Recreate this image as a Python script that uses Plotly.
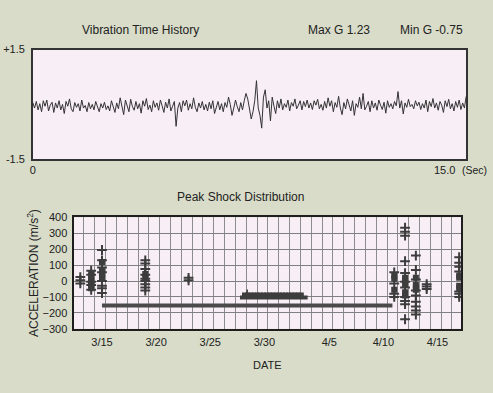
import pandas as pd
import plotly.graph_objects as go

W, H = 493, 393

# ---------------- Vibration time history (top panel) ----------------
vib_g = [
    0.05, -0.10, 0.08, -0.15, 0.02, -0.20, 0.10, -0.05, 0.12, -0.18, -0.02, 0.06, -0.22, 0.04, -0.10, 0.10,
    -0.15, 0.00, -0.25, 0.08, -0.05, 0.15, -0.12, -0.20, 0.05, -0.08, 0.02, -0.18, 0.12, -0.10, -0.03, -0.20,
    0.05, -0.12,
    0.00, -0.15, 0.08, -0.06, -0.20, 0.02, -0.10, 0.06, -0.14, -0.04, -0.18, 0.10, -0.08, -0.22, 0.04, -0.12,
    0.18, -0.10, -0.28, 0.12, -0.02, -0.20, 0.14, -0.06, -0.16, 0.08, -0.12, 0.02, -0.24, 0.10, -0.05, 0.16,
    -0.14,
    -0.02, -0.20, 0.10, -0.08, 0.04, -0.16, 0.12, -0.04, -0.22, 0.06, -0.10, 0.15, -0.18, -0.05, 0.08, -0.60,
    -0.10, 0.05, -0.20, 0.10, -0.04, 0.12, -0.16, 0.02, -0.12, 0.18, -0.08, -0.20, 0.04, -0.10, 0.08, -0.15,
    0.00,
    -0.18, 0.06, -0.12, 0.10, -0.25, -0.05, 0.08, -0.15, 0.02, -0.20, 0.05, -0.08, 0.20, 0.00, -0.30, -0.10,
    0.12, -0.06, -0.20, 0.05, -0.15, 0.10, 0.30, 0.15, -0.10, -0.40, -0.20, 0.10, 0.65, -0.10, -0.30, -0.65,
    0.20, 0.40,
    -0.10, 0.10, -0.45, 0.20, -0.05, -0.25, 0.10, -0.10, 0.15, -0.15, 0.02, -0.08, 0.12, -0.18, 0.05, -0.05,
    0.15, -0.12, -0.02, 0.10, -0.15, 0.08, -0.06, 0.12, -0.10, 0.04, -0.14, 0.10, -0.02, 0.14, -0.12, 0.00,
    -0.16,
    0.08, -0.10, 0.18, -0.05, 0.10, -0.20, 0.05, -0.08, 0.22, -0.10, -0.28, 0.05, -0.12, 0.15, -0.06, -0.18,
    0.10, -0.30, 0.02, -0.08, 0.20, -0.12, 0.30, -0.15, -0.05, 0.08, -0.20, 0.10, -0.10, 0.04, -0.16, 0.12,
    -0.02,
    -0.14, 0.06, -0.24, 0.10, -0.08, 0.02, -0.12, 0.08, -0.04, 0.35, -0.10, 0.10, -0.26, 0.04, -0.08, 0.14,
    -0.06, 0.00, -0.12, 0.10, -0.04, 0.06, -0.14, 0.02, -0.10, 0.12, -0.20, 0.08, -0.06, 0.16, -0.10, 0.04,
    -0.16, 0.08, -0.02, -0.22, 0.10, -0.06, 0.14, -0.12, 0.02, -0.18, 0.08, -0.08, 0.12, -0.14, 0.04, -0.10,
    0.22,
]
duration_s = 15.0
max_g = 1.23
min_g = -0.75
vib_ytickvals = [-1.5, 1.5]
vib_yticktext = ["-1.5", "+1.5"]

# ---------------- Peak shock distribution (bottom panel) ----------------
cluster_dates = ["2007-03-13", "2007-03-14", "2007-03-15", "2007-03-19", "2007-03-23",
                 "2007-04-11", "2007-04-12", "2007-04-13", "2007-04-14", "2007-04-17"]
cluster_crosses = [
    [25, 5, -15],
    [65, 40, -5, -25, -55],
    [195, 130, 85, 55, 0, -30, -45, -75],
    [130, 110, 75, 40, 15, 0, -20, -40, -60],
    [20, 5],
    [55, -15, -80, -100],
    [335, 310, 285, 125, 50, -5, -40, -100, -125, -145, -240],
    [160, 70, 10, -60, -90, -130, -160, -185, -210],
    [-20, -35, -50],
    [150, 115, 90, 60, -65, -80, -100],
]
cluster_squares = [
    [],
    [50, 30, 15, 0, -15, -30, -45],
    [120, 70, 40, 25],
    [45, 20],
    [],
    [35, 15, -55],
    [20, 5, -25, -70, -90],
    [20, -25, -40, -55],
    [],
    [35, 20, -30, -45],
]
voyage_dates = ["2007-03-15", "2007-04-10 20:00"]
voyage_level = -153
ship_start, ship_end = "2007-03-27 18:00", "2007-04-03 00:00"
ship_hull_level = -104
ship_deck_level = -88
date_tickvals = ["2007-03-15", "2007-03-20", "2007-03-25", "2007-03-30",
                 "2007-04-05", "2007-04-10", "2007-04-15"]
date_ticktext = ["3/15", "3/20", "3/25", "3/30", "4/5", "4/10", "4/15"]
accel_ticks = [-300, -200, -100, 0, 100, 200, 300, 400]
date_range = ["2007-03-12 09:00", "2007-04-17 04:30"]

INK = "#3d3d3d"
FONT = "Liberation Sans, Arial, sans-serif"


def px(x):
    return x / W


def py(y):
    return 1 - y / H


fig = go.Figure()

# top line
dt = duration_s / (len(vib_g) - 1)
t = [i * dt for i in range(len(vib_g))]
fig.add_trace(go.Scatter(x=t, y=vib_g, mode="lines", line=dict(color="#333333", width=1),
                         xaxis="x", yaxis="y", hoverinfo="skip"))

# voyage bar
fig.add_trace(go.Scatter(x=voyage_dates, y=[voyage_level] * 2, mode="lines",
                         line=dict(color="#4a4a4a", width=4), xaxis="x2", yaxis="y2"))

# ship silhouette
fig.add_trace(go.Scatter(x=[ship_start, ship_end], y=[ship_hull_level] * 2, mode="lines",
                         line=dict(color=INK, width=4), xaxis="x2", yaxis="y2"))
deck = pd.date_range(pd.Timestamp(ship_start) + pd.Timedelta(hours=10),
                     pd.Timestamp(ship_end) - pd.Timedelta(hours=14), freq="7h")
fig.add_trace(go.Scatter(x=deck, y=[ship_deck_level] * len(deck), mode="markers",
                         marker=dict(symbol="square", size=5, color=INK),
                         xaxis="x2", yaxis="y2"))
bridge = pd.Timestamp(ship_start) + pd.Timedelta(hours=16)
fig.add_trace(go.Scatter(x=[bridge, bridge], y=[ship_deck_level, ship_deck_level + 35], mode="lines",
                         line=dict(color=INK, width=1.5), xaxis="x2", yaxis="y2"))

# crosses & squares
cx, cy, sx, sy = [], [], [], []
for d, cr, sq in zip(cluster_dates, cluster_crosses, cluster_squares):
    cx += [d] * len(cr)
    cy += cr
    sx += [d] * len(sq)
    sy += sq
fig.add_trace(go.Scatter(x=cx, y=cy, mode="markers",
                         marker=dict(symbol="cross-thin", size=7, line=dict(color=INK, width=2)),
                         xaxis="x2", yaxis="y2"))
fig.add_trace(go.Scatter(x=sx, y=sy, mode="markers",
                         marker=dict(symbol="square", size=6, color=INK),
                         xaxis="x2", yaxis="y2"))

fig.update_layout(
    width=W, height=H, autosize=False, showlegend=False,
    margin=dict(l=0, r=0, t=0, b=0),
    paper_bgcolor="#d8dcc8", plot_bgcolor="#f8eef6",
    font=dict(family=FONT, color="#222222", size=11),
    xaxis=dict(domain=[px(30), px(466)], range=[0, duration_s], anchor="y",
               tickvals=[0], ticktext=["0"], showgrid=False, zeroline=False,
               showline=True, mirror=True, linecolor="#333333", linewidth=1.5, ticks=""),
    yaxis=dict(domain=[py(158), py(45)], range=[-1.5, 1.5], anchor="x",
               tickvals=vib_ytickvals, ticktext=vib_yticktext, showgrid=False, zeroline=False,
               showline=True, mirror=True, linecolor="#333333", linewidth=1.5, ticks="",
               ticklabelstandoff=4),
    xaxis2=dict(domain=[px(71), px(461)], type="date", range=date_range, anchor="y2",
                tickvals=date_tickvals, ticktext=date_ticktext, showgrid=False, zeroline=False,
                showline=True, mirror=True, linecolor="#1e1e1e", linewidth=2, ticks="",
                tickfont=dict(size=11), ticklabelstandoff=2,
                minor=dict(dtick=86400000, tick0="2007-03-12 08:00", showgrid=True,
                           gridcolor="#8c8c8c", gridwidth=1, ticks=""),
                title=dict(text="DATE", font=dict(size=11), standoff=14)),
    yaxis2=dict(domain=[py(333), py(218)], range=[-300, 400], anchor="x2",
                tickvals=accel_ticks, showgrid=True, gridcolor="#808080", gridwidth=1,
                zeroline=False, showline=True, mirror=True, linecolor="#1e1e1e", linewidth=2,
                ticks="", tickfont=dict(size=11), ticklabelstandoff=2,
                title=dict(text="ACCELERATION (m/s<sup>2</sup>)", font=dict(size=12), standoff=1)),
)

annots = [
    dict(text="Vibration Time History", x=px(138), y=py(25)),
    dict(text=f"Max G {max_g:.2f}", x=px(338), y=py(25)),
    dict(text=f"Min G {min_g:.2f}", x=px(431), y=py(25)),
    dict(text="Peak Shock Distribution", x=px(239), y=py(197)),
]
for a in annots:
    fig.add_annotation(xref="paper", yref="paper", showarrow=False, font=dict(size=12),
                       xanchor="center", yanchor="middle", **a)
fig.add_annotation(xref="paper", yref="paper", showarrow=False, text=f"{duration_s:.1f}",
                   x=px(457), y=py(169), xanchor="right", yanchor="middle", font=dict(size=11))
fig.add_annotation(xref="paper", yref="paper", showarrow=False, text="(Sec)",
                   x=px(460), y=py(169), xanchor="left", yanchor="middle", font=dict(size=10.5))

fig.write_html("out.html", config={"displayModeBar": False},
               post_script="document.body.style.margin='0';document.body.style.background='#d8dcc8';")
